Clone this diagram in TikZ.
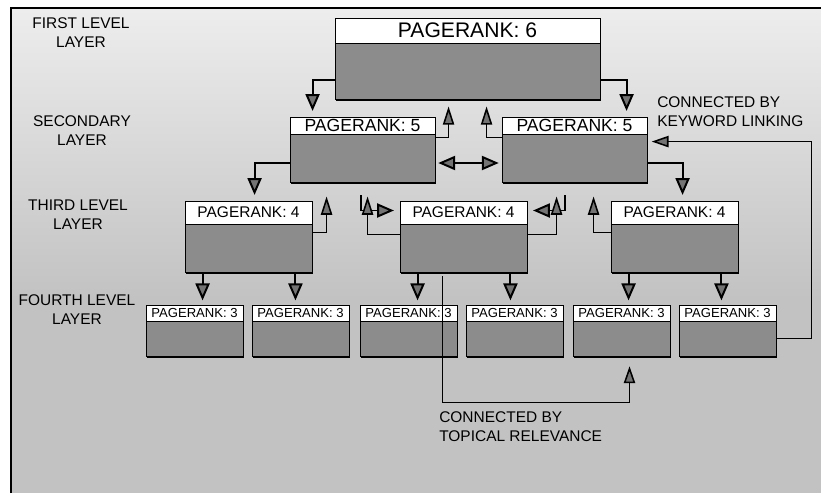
\documentclass[tikz,border=0pt]{standalone}
\usepackage{fontspec}
\setmainfont{Liberation Sans}
\newfontfamily\rankfont[LetterSpace=6]{Liberation Sans}
\usetikzlibrary{arrows.meta,calc,shadows}
\tikzset{
  every picture/.style={line join=miter, >=Stealth},
  head/.style={draw, fill=white, inner sep=0pt, line width=0.6pt, font=\rankfont},
  body/.style={draw, fill=black!45, inner sep=0pt, line width=0.6pt,
    drop shadow={shadow xshift=0.7pt, shadow yshift=-1.3pt, opacity=1, fill=black}},
  tip/.style={-{Triangle[width=10pt,length=12pt,fill=black!55]}},
  conn/.style={line width=1.4pt, shorten >=4pt, tip},
  dbl/.style={line width=1.4pt, shorten <=2pt, shorten >=2pt,
    {Triangle[width=10pt,length=12pt,fill=black!55]}-{Triangle[width=10pt,length=12pt,fill=black!55]}},
  upconn/.style={line width=1.1pt, shorten >=5pt, -{Triangle[width=8pt,length=13pt,fill=black!55]}},
  link/.style={line width=1.1pt, -{Triangle[width=8pt,length=12pt,fill=black!55]}},
  layer/.style={align=center, inner sep=0pt},
  note/.style={align=left, inner sep=0pt},
}

\begin{document}
\begin{tikzpicture}[x=0.025cm, y=-0.025cm, font=\fontsize{11}{13.5}\selectfont]
\useasboundingbox (0,0) rectangle (821,493);
% background
\shade[top color=black!7, bottom color=black!24] (11,8) rectangle (821,300);
\fill[black!24] (11,300) rectangle (821,493);
\draw[line width=1.2pt] (11,493) -- (11,8) -- (821,8);

% layer names
\node[layer] (lay1) at (81,33) {FIRST LEVEL\\LAYER};
\node[layer] (lay2) at (82,131) {SECONDARY\\LAYER};
\node[layer] (lay3) at (78,215) {THIRD LEVEL\\LAYER};
\node[layer] (lay4) at (77,310) {FOURTH LEVEL\\LAYER};

% first level
\node[body, minimum width=6.625cm, minimum height=1.4cm] (topB) at (467.5,71) {};
\node[head, minimum width=6.625cm, minimum height=0.625cm, font=\fontsize{15}{15}\selectfont] (topH) at (467.5,30.5) {PAGERANK: 6};

% secondary
\foreach \n/\x in {1/290,2/502} {
  \node[body, minimum width=3.625cm, minimum height=1.2cm] (s\n B) at (\x+72.5,158) {};
  \node[head, minimum width=3.625cm, minimum height=0.425cm, font=\fontsize{12.5}{12.5}\selectfont] (s\n H) at (\x+72.5,125.5) {PAGERANK: 5};
}

% third level
\foreach \n/\x in {1/185,2/400,3/611} {
  \node[body, minimum width=3.175cm, minimum height=1.2cm] (t\n B) at (\x+63.5,248) {};
  \node[head, minimum width=3.175cm, minimum height=0.575cm, font=\fontsize{11}{11}\selectfont] (t\n H) at (\x+63.5,212.5) {PAGERANK: 4};
}

% fourth level
\foreach \n/\x in {1/146,2/252,3/360,4/466,5/573,6/679} {
  \node[body, minimum width=2.425cm, minimum height=0.875cm] (f\n B) at (\x+48.5,338.5) {};
  \node[head, minimum width=2.425cm, minimum height=0.4cm, font=\fontsize{9.3}{9.3}\selectfont] (f\n H) at (\x+48.5,313) {PAGERANK: 3};
}

% first <-> second
\draw[conn] ($(topB.west)+(0,9)$) -| ($(s1H.north west)+(23,0)$);
\draw[conn] ($(topB.east)+(0,9)$) -| ($(s2H.north west)+(125,0)$);
\draw[upconn] ($(s1H.south east)+(0,3)$) -| ($(topB.south west)+(114,0)$);
\draw[upconn] ($(s2H.south west)+(0,3)$) -| ($(topB.south west)+(152,0)$);
\draw[dbl] ($(s1B.east)+(0,5)$) -- ($(s2B.west)+(0,5)$);

% second <-> third
\draw[conn] ($(s1B.west)+(0,5)$) -| ($(t1H.north west)+(70,0)$);
\draw[conn] ($(s2B.east)+(0,5)$) -| ($(t3H.north west)+(72,0)$);
\draw[conn, shorten <=9pt] ($(s1B.south west)+(71,0)$) |- ($(t2H.west)+(0,-2)$);
\draw[conn, shorten <=9pt] ($(s2B.south west)+(63,0)$) |- ($(t2H.east)+(0,-2)$);
\draw[upconn, shorten >=10pt] ($(t1B.north east)+(0,9)$) -| ($(s1B.south west)+(37,0)$);
\draw[upconn, shorten >=10pt] ($(t2B.north west)+(0,11)$) -| ($(s1B.south west)+(78,0)$);
\draw[upconn, shorten >=10pt] ($(t2B.north east)+(0,11)$) -| ($(s2B.south west)+(55,0)$);
\draw[upconn, shorten >=10pt] ($(t3B.north west)+(0,9)$) -| ($(s2B.south west)+(92,0)$);

% third -> fourth
\foreach \tb/\fa/\fb in {t1/f1/f2, t2/f3/f4, t3/f5/f6} {
  \coordinate (lft) at ($(\tb B.south west)+(18,0)$);
  \coordinate (rgt) at ($(\tb B.south east)+(-17,0)$);
  \draw[conn, shorten >=3pt] (lft) -- (lft |- \fa H.north);
  \draw[conn, shorten >=3pt] (rgt) -- (rgt |- \fb H.north);
}

% cross links
\draw[link, shorten >=7pt] ($(t2B.south west)+(43,4)$) -- ++(0,126) -| ($(f5B.south)+(8,0)$);
\draw[link, shorten >=3pt] (f6B.east) -- ++(35,0) |- ($(s2B.north east)+(0,8)$);
\node[note, anchor=north west] (kwnote) at (657,96) {CONNECTED BY\\KEYWORD LINKING};
\node[note, anchor=north west] (tpnote) at (439,411) {CONNECTED BY\\TOPICAL RELEVANCE};
\end{tikzpicture}
\end{document}
